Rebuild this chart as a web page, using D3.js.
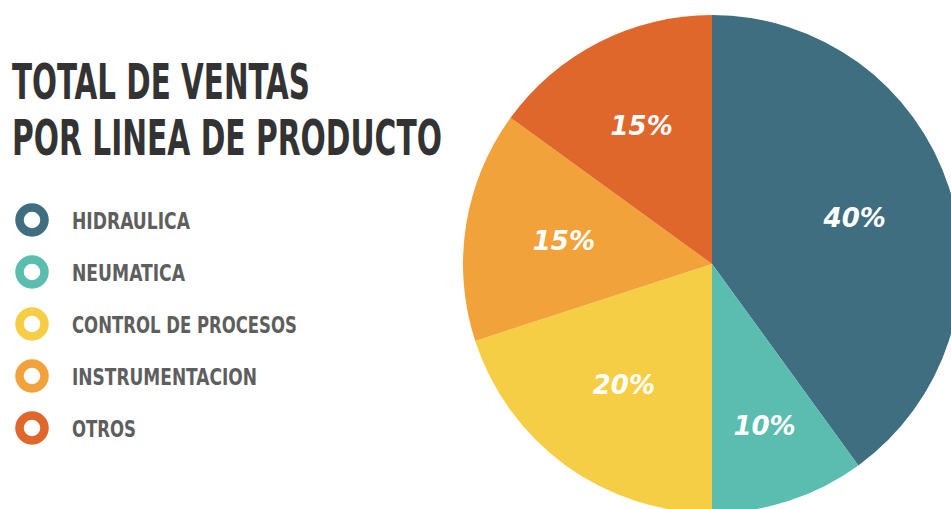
<!DOCTYPE html>
<html>
<head>
<meta charset="utf-8">
<script src="https://cdn.jsdelivr.net/npm/d3@7/dist/d3.min.js"></script>
<style>
  html, body { margin: 0; padding: 0; background: #ffffff; }
  svg { display: block; }
</style>
</head>
<body>
<svg id="chart" width="951" height="509"></svg>
<script>
const categories = ["HIDRAULICA", "NEUMATICA", "CONTROL DE PROCESOS", "INSTRUMENTACION", "OTROS"];
const values = [40, 10, 20, 15, 15];
const colors = ["#3f6e80", "#5bbdb0", "#f6ce45", "#f1a23a", "#df672c"];
const titleLines = ["TOTAL DE VENTAS", "POR LINEA DE PRODUCTO"];

const svg = d3.select("#chart");

const data = categories.map((c, i) => ({ name: c, value: values[i], color: colors[i] }));

// Pie
const cx = 712, cy = 264, R = 249;
const pie = d3.pie().value(d => d.value).sort(null);
const arcs = pie(data);
const arc = d3.arc().innerRadius(0).outerRadius(R);

const g = svg.append("g").attr("transform", `translate(${cx},${cy})`);
g.selectAll("path.slice").data(arcs).enter().append("path")
  .attr("class", "slice")
  .attr("d", arc)
  .attr("fill", d => d.data.color);

const labelRadius = [150, 170, 150, 150, 155];
g.selectAll("text.pct").data(arcs).enter().append("text")
  .attr("class", "pct")
  .attr("transform", (d, i) => {
    const a = (d.startAngle + d.endAngle) / 2;
    const r = labelRadius[i];
    return `translate(${Math.sin(a) * r},${-Math.cos(a) * r})`;
  })
  .attr("text-anchor", "middle")
  .attr("dominant-baseline", "central")
  .attr("font-family", "'DejaVu Sans', sans-serif")
  .attr("font-weight", "bold")
  .attr("font-style", "italic")
  .attr("font-size", 26)
  .attr("fill", "#ffffff")
  .text(d => d.data.value + "%");

// helper: squeeze a text horizontally to a target width via transform
function fitWidth(sel, widths, x, ys) {
  sel.each(function(d, i) {
    const t = d3.select(this);
    const w = this.getComputedTextLength();
    const s = widths[i] / w;
    t.attr("x", 0).attr("y", 0)
     .attr("transform", `translate(${x},${ys(i)}) scale(${s},1)`);
  });
}

// Title
const titleWidths = [298, 430];
const titles = svg.selectAll("text.title").data(titleLines).enter().append("text")
  .attr("class", "title")
  .attr("font-family", "'Liberation Sans Narrow', 'DejaVu Sans Condensed', sans-serif")
  .attr("font-weight", "bold")
  .attr("font-size", 50)
  .attr("fill", "#333333")
  .text(d => d);
fitWidth(titles, titleWidths, 12, i => 99 + i * 56);

// Legend
const legendWidths = [118, 113, 225, 185, 64];
const rows = svg.selectAll("g.row").data(data).enter().append("g")
  .attr("class", "row")
  .attr("transform", (d, i) => `translate(32,${220 + i * 52})`);
rows.append("circle")
  .attr("r", 12.5)
  .attr("fill", "none")
  .attr("stroke", d => d.color)
  .attr("stroke-width", 8.5);
const ltexts = rows.append("text")
  .attr("font-family", "'Liberation Sans Narrow', 'DejaVu Sans Condensed', sans-serif")
  .attr("font-weight", "bold")
  .attr("font-size", 23)
  .attr("fill", "#5e5e5e")
  .text(d => d.name);
fitWidth(ltexts, legendWidths, 40, () => 8.5);
</script>
</body>
</html>
